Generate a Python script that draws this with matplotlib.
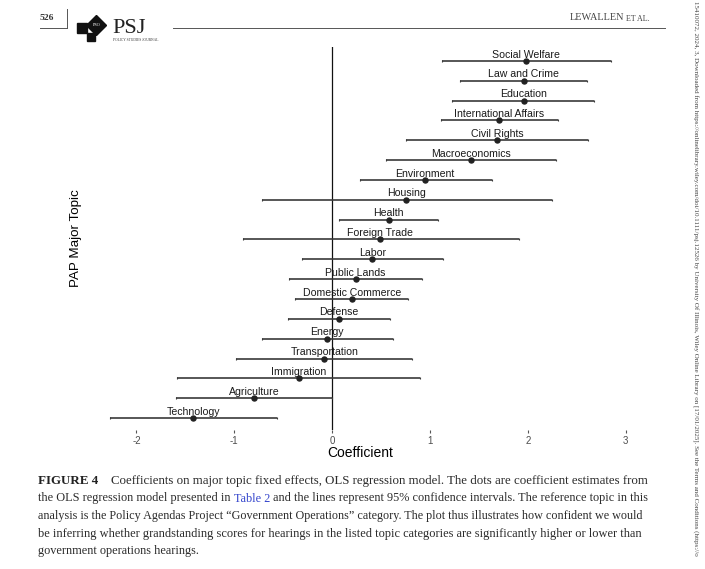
import matplotlib
matplotlib.use("Agg")
import matplotlib.pyplot as plt
from matplotlib.lines import Line2D
from matplotlib.patches import Polygon
import numpy as np

plt.rcParams['font.family'] = ['Liberation Sans', 'DejaVu Sans']
plt.rcParams['axes.unicode_minus'] = False

# topic coefficients, top row first
topics = ["Social Welfare", "Law and Crime", "Education", "International Affairs",
          "Civil Rights", "Macroeconomics", "Environment", "Housing", "Health",
          "Foreign Trade", "Labor", "Public Lands", "Domestic Commerce", "Defense",
          "Energy", "Transportation", "Immigration", "Agriculture", "Technology"]
coef = [1.98, 1.96, 1.96, 1.71, 1.69, 1.42, 0.95, 0.76, 0.58, 0.49,
        0.41, 0.24, 0.20, 0.07, -0.05, -0.08, -0.34, -0.80, -1.42]
lower = [1.12, 1.31, 1.23, 1.11, 0.76, 0.55, 0.28, -0.72, 0.07, -0.91,
         -0.31, -0.44, -0.38, -0.45, -0.72, -0.98, -1.59, -1.60, -2.27]
upper = [2.85, 2.61, 2.68, 2.31, 2.62, 2.29, 1.63, 2.25, 1.08, 1.91,
         1.13, 0.92, 0.78, 0.59, 0.62, 0.82, 0.90, 0.00, -0.56]
xticks = [-2, -1, 0, 1, 2, 3]

caption = [
    ["Coefficients on major topic fixed effects, OLS regression model. The dots are coefficient estimates from"],
    ["the OLS regression model presented in ", "Table 2",
     " and the lines represent 95% confidence intervals. The reference topic in this"],
    ["analysis is the Policy Agendas Project \u201cGovernment Operations\u201d category. The plot thus illustrates how confident we would"],
    ["be inferring whether grandstanding scores for hearings in the listed topic categories are significantly higher or lower than"],
    ["government operations hearings."],
]
side_note = ("15410072, 2024, 3, Downloaded from https://onlinelibrary.wiley.com/doi/10.1111/psj.12526 "
             "by University Of Illinois, Wiley Online Library on [17/01/2025]. See the Terms and Conditions (https://o")

W, H = 705, 569
fig = plt.figure(figsize=(W / 100, H / 100), dpi=100)


def px(x, y):
    # page pixel coords (top-left origin) -> figure fraction
    return x / W, 1 - y / H


# ---- chart panel ----
ax = fig.add_axes([85 / W, 1 - 430 / H, 551 / W, 383 / H])
n = len(topics)
ypos = np.arange(n)[::-1]
coef = np.array(coef)
lower = np.array(lower)
upper = np.array(upper)

ax.axvline(0, color='#111111', lw=0.9, zorder=1)
ax.errorbar(coef, ypos, xerr=[coef - lower, upper - coef], fmt='o', color='#222222',
            ecolor='#3a3a3a', elinewidth=1.2, capsize=0.8, capthick=0.8, ms=3.6, zorder=3)
for t, c, y in zip(topics, coef, ypos):
    ax.text(c, y + 0.17, t, ha='center', va='baseline', fontsize=7.6, color='#1a1a1a')

lo, hi = lower.min(), upper.max()
pad = 0.05 * (hi - lo)
ax.set_xlim(lo - pad, hi + pad)
ax.set_ylim(-0.6, n - 0.3)
ax.set_xticks(xticks)
ax.set_xticklabels([str(v) for v in xticks])
ax.set_yticks([])
for s in ax.spines.values():
    s.set_visible(False)
ax.tick_params(axis='x', length=2.5, width=0.8, color='#555555', labelcolor='#4d4d4d',
               labelsize=7, pad=2)
ax.set_xlabel("Coefficient", fontsize=10, labelpad=0, color='black')
ax.set_ylabel("PAP Major Topic", fontsize=9.6, labelpad=2, color='black')

# ---- page header ----
serif = ['Liberation Serif', 'DejaVu Serif']
fig.text(*px(40, 18), "526", fontsize=6.8, family=serif, fontweight='bold',
         color='#333333', va='center', ha='left')
fig.add_artist(Line2D([40 / W, 67 / W], [1 - 28 / H] * 2, color='#555555', lw=0.7))
fig.add_artist(Line2D([67 / W, 67 / W], [1 - 9 / H, 1 - 28 / H], color='#555555', lw=0.7))
fig.add_artist(Line2D([173 / W, 665 / W], [1 - 28 / H] * 2, color='#555555', lw=0.7))
fig.add_artist(Polygon([px(96.5, 15.5), px(106.5, 25.5), px(96.5, 35.5), px(86.5, 25.5)],
                       closed=True, color='#111111', transform=fig.transFigure))
fig.add_artist(Polygon([px(77, 23), px(87, 23), px(87, 33), px(77, 33)],
                       closed=True, color='#111111', transform=fig.transFigure))
fig.add_artist(Polygon([px(87, 33), px(95, 33), px(95, 41), px(87, 41)],
                       closed=True, color='#111111', transform=fig.transFigure))
fig.text(*px(96.5, 25.5), "PSO", fontsize=3.2, family=serif, color='white',
         ha='center', va='center')
fig.text(*px(112, 33), "PSJ", fontsize=16, family=serif, color='#222222',
         ha='left', va='baseline')
fig.text(*px(113, 40), "POLICY STUDIES JOURNAL", fontsize=2.6, family=serif,
         color='#333333', ha='left', va='center')
fig.text(*px(624, 18), "LEWALLEN", fontsize=7.4, family=serif, color='#444444',
         ha='right', va='center')
fig.text(*px(626, 18.6), "ET AL.", fontsize=5.8, family=serif, color='#444444',
         ha='left', va='center')

# right margin download note
fig.text(*px(695, 1), side_note, rotation=270, fontsize=5.0, family=serif,
         color='#444444', ha='center', va='top')

# ---- caption: each line sized to fill its width ----
renderer = fig.canvas.get_renderer()
cap_col = '#2b2b2b'
link_col = '#3344cc'


def text_width(s, size):
    t = fig.text(0, 0, s, fontsize=size, family=serif)
    w = t.get_window_extent(renderer).width
    t.remove()
    return w


base_y = [484, 501.5, 519, 536.5, 554]
starts = [111, 38, 38, 38, 38]
ends = [648, 645, 643, 638, None]
base_size = 10 * 603 / text_width("".join(caption[1]), 10)

fig.text(*px(38, base_y[0]), "FIGURE 4", fontsize=base_size + 0.6, family=serif,
         fontweight='bold', color='#222222', va='baseline', ha='left')
for segs, y, xs, xe in zip(caption, base_y, starts, ends):
    size = base_size
    if xe is not None:
        size = 10 * (xe - xs) / text_width("".join(segs), 10)
    cols = [cap_col, link_col, cap_col] if len(segs) == 3 else [cap_col]
    x = xs
    for seg, col in zip(segs, cols):
        t = fig.text(*px(x, y), seg, fontsize=size, family=serif, color=col,
                     va='baseline', ha='left')
        x += text_width(seg, size)

fig.savefig("out.png", dpi=100)
